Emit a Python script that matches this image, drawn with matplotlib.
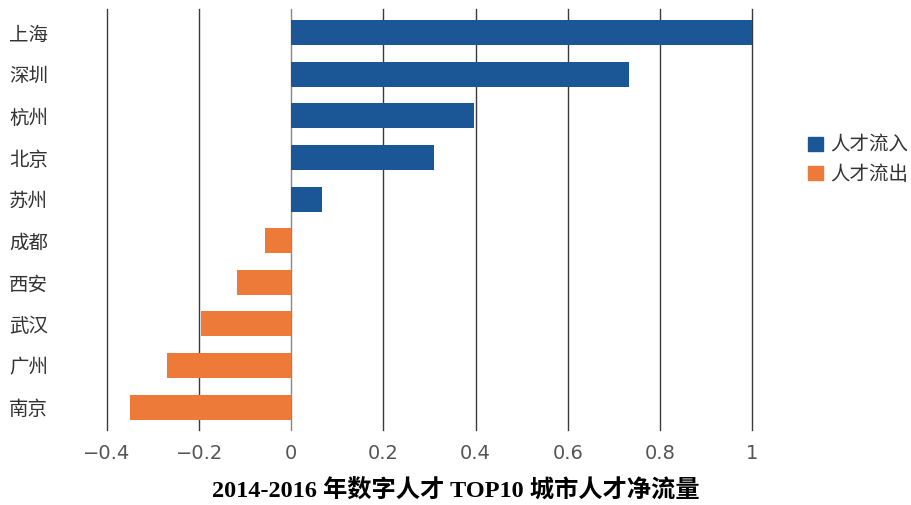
import matplotlib
matplotlib.use('Agg')
import matplotlib.pyplot as plt
from matplotlib.patches import Patch

plt.rcParams['font.family'] = ['Noto Sans CJK SC', 'DejaVu Sans']

cities = ['上海', '深圳', '杭州', '北京', '苏州', '成都', '西安', '武汉', '广州', '南京']
net_flow = [1.0, 0.732, 0.397, 0.310, 0.067, -0.056, -0.118, -0.196, -0.269, -0.351]
x_ticks = [-0.4, -0.2, 0, 0.2, 0.4, 0.6, 0.8, 1]
x_tick_labels = ['\u22120.4', '\u22120.2', '0', '0.2', '0.4', '0.6', '0.8', '1']
legend_labels = ['人才流入', '人才流出']
title = '2014-2016 年数字人才 TOP10 城市人才净流量'

blue = '#1b5796'
orange = '#ee7a3a'

fig = plt.figure(figsize=(9.12, 5.05), dpi=100)
ax = fig.add_axes([0.1173, 0.1485, 0.7073, 0.8345])

colors = [blue if v >= 0 else orange for v in net_flow]
ax.barh(range(len(cities)), net_flow, height=0.6, color=colors, zorder=3)

for t in x_ticks:
    ax.axvline(t, color='#888888' if t == 0 else '#3a3a3a', lw=1.0, zorder=1,
               clip_on=False)

ax.set_xlim(-0.4, 1.0)
ax.set_ylim(9.55, -0.58)
ax.set_xticks(x_ticks)
ax.set_xticklabels(x_tick_labels, color='#555555', fontsize=14,
                   family=['DejaVu Sans'])
ax.set_yticks(range(len(cities)))
ax.set_yticklabels(cities, color='#333333', fontsize=14)
ax.tick_params(axis='both', length=0)
ax.tick_params(axis='y', pad=0)
ax.tick_params(axis='x', pad=10)
for lbl in ax.get_yticklabels():
    lbl.set_horizontalalignment('left')
    lbl.set_x(-0.152)
for s in ax.spines.values():
    s.set_visible(False)

handles = [Patch(color=blue), Patch(color=orange)]
fig.legend(handles, legend_labels, loc='center left', bbox_to_anchor=(0.886, 0.684),
           frameon=False, fontsize=14, handlelength=0.75, handleheight=0.75,
           handletextpad=0.4, labelspacing=0.42, labelcolor='#333333',
           borderaxespad=0, borderpad=0)

fig.text(0.5, 0.028, title, ha='center', va='center', fontsize=17.5, fontweight='bold',
         family=['Liberation Serif', 'Noto Sans CJK SC'])

fig.savefig('out.png', dpi=100)
